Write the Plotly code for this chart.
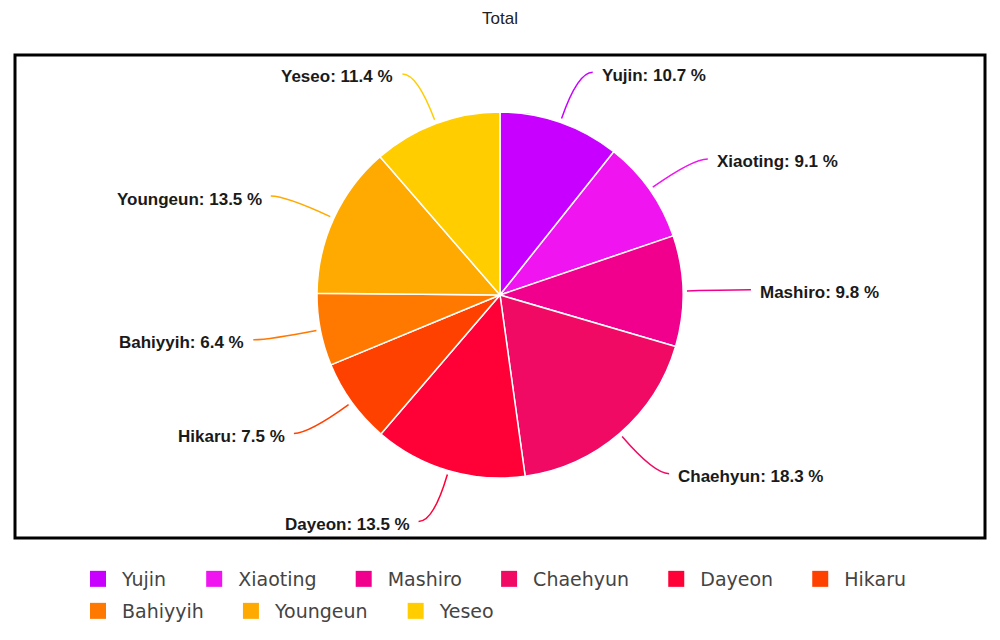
import math
import plotly.graph_objects as go

names = ["Yujin", "Xiaoting", "Mashiro", "Chaehyun", "Dayeon", "Hikaru", "Bahiyyih", "Youngeun", "Yeseo"]
values = [10.7, 9.1, 9.8, 18.3, 13.5, 7.5, 6.4, 13.5, 11.4]
colors = ["#C800FF", "#F014F0", "#F0008C", "#F00A64", "#FF0037", "#FF4100", "#FF7800", "#FFAA00", "#FFCD00"]
title_text = "Total"

W, H = 1000, 640
OFF = 8  # page body margin compensation
CX, CY, R = 500 - OFF, 295 - OFF, 183

fig = go.Figure()
fig.add_trace(go.Pie(
    labels=names, values=values, sort=False, direction="clockwise", rotation=0,
    marker=dict(colors=colors, line=dict(color="white", width=1.5)),
    textinfo="none", hoverinfo="label+value", showlegend=False,
    domain=dict(x=[(CX - R) / W, (CX + R) / W], y=[(H - CY - R) / H, (H - CY + R) / H]),
))

# legend entries (two rows, like the reference)
for i, (n, c) in enumerate(zip(names, colors)):
    fig.add_trace(go.Scatter(
        x=[None], y=[None], mode="markers", name=n + "\u00a0\u00a0\u00a0",
        marker=dict(symbol="square", size=20, color=c),
        legend="legend" if i < 6 else "legend2", showlegend=True, hoverinfo="skip",
    ))

def px2paper(x, y):
    return x / W, (H - y) / H

total = sum(values)
cum = 0.0
shapes = []
annotations = []
for n, v, c in zip(names, values, colors):
    mid = (cum + v / 2) / total * 2 * math.pi
    cum += v
    s, co = math.sin(mid), -math.cos(mid)
    right = s >= 0
    p0 = (CX + (R + 4) * s, CY + (R + 4) * co)
    p1 = (CX + 236 * s, CY + 236 * co)
    p2 = (p1[0] + (15 if right else -15), p1[1])
    a0, a1, a2 = px2paper(*p0), px2paper(*p1), px2paper(*p2)
    shapes.append(dict(type="path", xref="paper", yref="paper",
                       path=f"M {a0[0]},{a0[1]} Q {a1[0]},{a1[1]} {a2[0]},{a2[1]}",
                       line=dict(color=c, width=1.5)))
    tx, ty = px2paper(p2[0] + (7 if right else -7), p2[1] + 3)
    annotations.append(dict(x=tx, y=ty, xref="paper", yref="paper", showarrow=False,
                            xanchor="left" if right else "right", yanchor="middle",
                            text=f"<b>{n}: {v} %</b>",
                            font=dict(family="Liberation Sans, Arial", size=17, color="#1a1a1a")))

shapes.append(dict(type="rect", xref="paper", yref="paper",
                   x0=(15 - OFF) / W, x1=(985 - OFF) / W, y0=(H - 538 + OFF) / H, y1=(H - 55 + OFF) / H,
                   line=dict(color="black", width=3), fillcolor="rgba(0,0,0,0)"))

annotations.append(dict(x=(500 - OFF) / W, y=(H - 18 + OFF) / H, xref="paper", yref="paper", showarrow=False,
                        text=title_text, xanchor="center", yanchor="middle",
                        font=dict(family="Liberation Sans, Arial", size=17, color="#222")))

legend_font = dict(family="DejaVu Sans", size=19, color="#444")
fig.update_layout(
    width=W, height=H, margin=dict(l=0, r=0, t=0, b=0),
    paper_bgcolor="white", plot_bgcolor="white",
    xaxis=dict(visible=False), yaxis=dict(visible=False),
    shapes=shapes, annotations=annotations,
    showlegend=True,
    legend=dict(orientation="h", x=(90 - OFF - 16) / W, xanchor="left", y=(H - 579 + OFF) / H, yanchor="middle",
                font=legend_font, itemsizing="trace", itemwidth=38, bgcolor="rgba(0,0,0,0)"),
    legend2=dict(orientation="h", x=(90 - OFF - 16) / W, xanchor="left", y=(H - 611 + OFF) / H, yanchor="middle",
                 font=legend_font, itemsizing="trace", itemwidth=38, bgcolor="rgba(0,0,0,0)"),
)

fig.write_html("out.html")
